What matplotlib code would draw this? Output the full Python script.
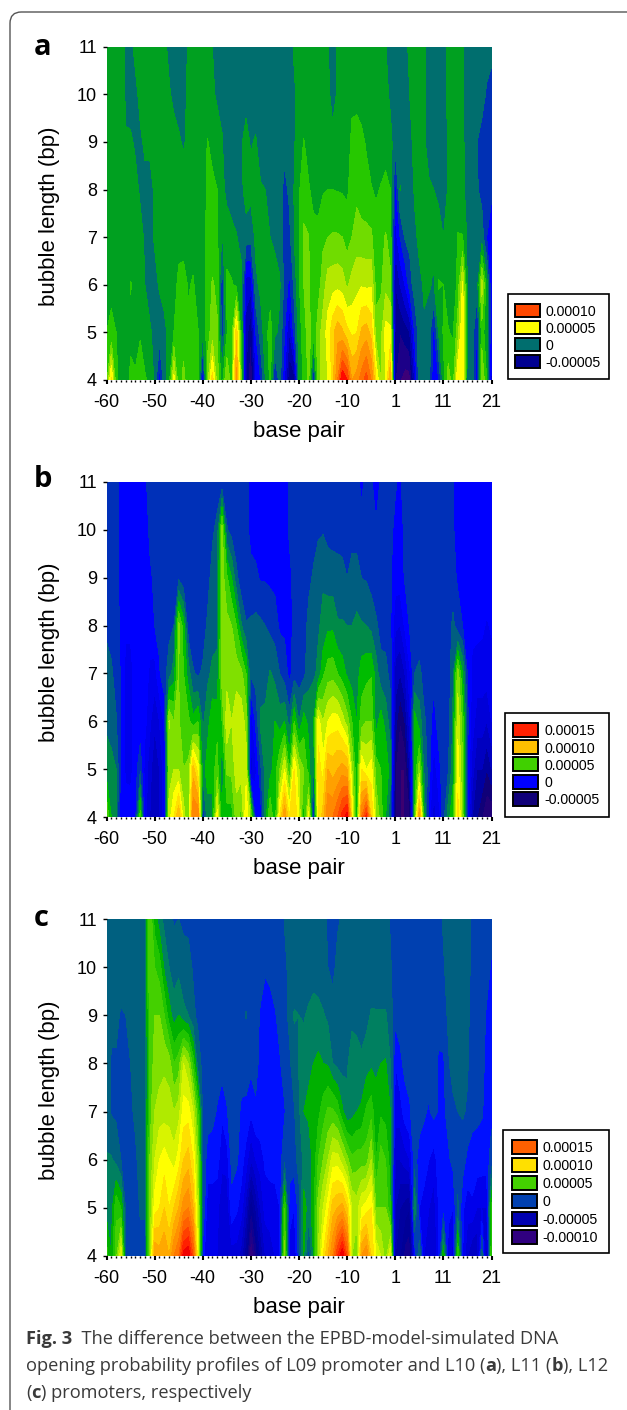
import matplotlib
matplotlib.use("Agg")
import matplotlib.pyplot as plt
import numpy as np
from matplotlib.colors import to_rgb
from matplotlib.patches import FancyBboxPatch, Rectangle

W, H = 627, 1410

plt.rcParams["font.family"] = ["Liberation Sans", "DejaVu Sans"]

base_pairs = list(range(-60, 0)) + list(range(1, 22))
bubble_lengths = [4, 5, 6, 7, 8, 9, 10, 11]
x_tick_labels = [-60, -50, -40, -30, -20, -10, 1, 11, 21]

# one line per base pair, values at bubble length 4..11, in units of 1e-5
values_a = [
    [2.5,2,1.5,1.5,1.5,1.5,1.5,1.5], [6.2,2.2,1.8,1.5,1.5,1.5,1.5,1.5], [2.3,2,1.5,1.5,1.5,1.5,1.5,1.5],
    [1.5,1.5,1.5,1.5,1.4,1.4,1.4,1.4], [1.5,1.6,1.5,1.5,1.4,1.05,.9,.9], [2.2,1.8,2.05,1.4,1.3,1.1,.7,.7],
    [2.1,1.7,1.8,1.3,1.2,.9,.7,1.3], [2.5,1.9,1.4,1.2,.9,.8,1.3,1.4], [2.1,1.5,1,.9,.7,1.2,1.4,1.4],
    [1.8,1.1,.7,.7,.5,1.3,1.4,1.5], [.8,.8,.7,1.1,1.2,1.4,1.5,1.5], [-1.5,.5,1.1,1.4,1.4,1.4,1.5,1.5],
    [.5,.7,1.4,1.5,1.5,1.5,1.4,1.2], [1.5,1.3,1.5,1.5,1.5,1.4,1.1,.8], [5.4,2,1.5,1.5,1.5,1.3,.8,.7],
    [2.1,2.1,2.3,1.6,1.5,1.1,.7,.6], [3.4,2.4,2.4,1.6,1.4,.9,.7,.6], [2.2,2.2,1.9,1.5,1.4,1.2,1.2,1.1],
    [2.3,2.3,2.1,1.6,1.5,1.4,1.4,1.4], [2.2,2.05,1.6,1.5,1.5,1.5,1.5,1.5], [-2,1,1.5,1.5,1.5,1.5,1.5,1.5],
    [3.6,2.5,2.4,2.3,2.2,2.05,1.3,1.1], [6.5,3.5,3.1,2.5,2.3,1.6,1.1,1], [3.5,3.1,2.8,2.2,2,1.3,.9,.8],
    [1.5,-.7,-.8,.9,1.3,1.05,.8,.6], [4,1.9,2.2,1.6,.7,.6,.6,.6], [2.5,2.5,2.1,1.3,.5,.5,.5,.5],
    [8.5,6.7,1.8,1.05,.5,.5,.5,.5], [3,2,1.3,.7,.7,.9,.5,.5], [-4,-3.5,-2.5,.5,1.5,1.3,.7,.5],
    [-6.5,-5,-2.5,.4,1.3,.9,.5,.5], [-2,-1,.8,1.2,1.3,1.1,.5,.5], [-1,.5,1.2,1.3,1.1,.5,.4,.4],
    [1,1.5,1.3,1.1,1,.5,.4,.4], [2.2,2.5,1.4,1,.7,.5,.4,.4], [-1.2,1.2,1.2,.9,.6,.4,.4,.4],
    [.5,.8,1.1,.6,.4,.4,.4,.4], [-2,-1,-.3,-.5,-.3,.3,.4,.4], [-5,-3,-1.3,-.3,.2,.5,.5,.6],
    [-4.5,-.5,.3,1,1.05,.9,.9,1.1], [1.3,1.5,1.9,1.9,1.9,1.5,1.2,1.3], [2.2,2.5,3,3.2,2.5,2.05,1.3,1.3],
    [3.2,3.5,3.1,3.05,2.1,1.6,1.2,1.3], [-1,2.3,2.2,2.3,1.7,1.4,1.2,1.3], [3.5,3.5,2.6,2.3,1.6,1.3,1.3,1.3],
    [4.5,4.5,3.5,2.8,1.9,1.3,1.3,1.3], [5,5.4,4.5,3,2,1.3,1.2,1.05], [6.3,6.7,4.6,3.1,2,1.2,.7,.5],
    [9,7.7,4.7,3.1,1.95,1.1,1.1,1.2], [12,7.2,4.5,3,1.9,1.05,1.1,1.3], [11,6.3,3.8,2.6,1.8,1.3,1.3,1.4],
    [8,5.8,4.4,3,2.5,2.3,1.7,1.4], [8.5,6,4.7,3.5,2.7,2.4,1.7,1.4], [9.5,7.2,4.9,3.3,2.5,2.2,1.6,1.4],
    [10.5,7.5,4.8,3.3,2.3,1.9,1.5,1.4], [9,6.7,4.9,3.2,2.05,1.6,1.4,1.4], [6,3.5,2.6,2.3,1.9,1.5,1.4,1.4],
    [4,3.6,2.8,2.6,2.05,1.6,1.4,1.3], [5,5.4,3.7,3.1,2.2,1.7,1.3,1.05], [8,5.3,3.2,2.6,2,1.3,.8,.5],
    [-5,-4.5,-4,-2.5,-1.5,.4,.5,.5], [-6,-5,-3,-1,1.05,.5,.5,.5], [-6.5,-4.5,-2,.1,.4,.5,.5,.7],
    [-6.5,-4,-.5,.3,.4,.8,1,1.2], [-3,-1,.5,.8,1.1,1.2,1.2,1.3], [1,.5,.8,1.2,1.3,1.4,1.4,1.4],
    [.5,.9,1.1,1.2,1.2,1.1,1.1,1.1], [.5,.5,1.1,1.2,1.1,.7,.6,.6], [-2,-1.3,.9,1.1,1,.6,.5,.5],
    [-1,1,2.1,1.2,.9,.6,.6,.6], [1.5,2.1,2,1,.5,.5,.6,.6], [3.5,2.05,1.6,1.2,1.1,1.1,1.2,1.3],
    [2.5,1.9,1.3,1.3,1.3,1.3,1.3,1.4], [6,3.5,2.3,2.05,1.5,1.4,1.3,1.3], [5.5,6,5.2,2.05,1.2,1.2,1.1,1.05],
    [.5,.7,.8,.8,.7,.5,.5,.5], [.5,.5,.4,.4,.4,.4,.4,.4], [-2,-1.2,.4,.5,.1,0,.4,.4],
    [4,2.5,4.5,.5,-.3,-.3,.3,.3], [2,1.3,1.5,-1,-.7,-.6,-.1,.3], [-2.5,-2,-2,-1.3,-.9,-.8,-.4,.3],
]

values_b = [
    [6,3.5,2.8,2.4,1.8,1.5,1.5,1.5], [4,3.3,2.6,2.2,1.5,1.5,1.5,1.5], [3,3,2.1,1.5,1.2,1.3,1.2,1.2],
    [.3,.7,.8,.9,.9,.7,.8,.8], [.5,-.2,-.3,-.5,.3,.5,.5,.5], [.5,-.3,-.3,-.5,.3,.5,.5,.5],
    [.5,.5,.5,.5,.5,.5,.5,.5], [5.5,1.8,.3,.5,.5,.5,.5,.5], [-.5,-.5,.3,.5,.5,.5,.7,.9],
    [-2,-1.5,-.8,-.2,.5,.9,1.1,1.2], [-3,-3,-1.8,-.5,1,1.1,1.2,1.2], [-2,-2,-1,.9,1.2,1.3,1.3,1.3],
    [-.5,-.5,.2,1.6,1.5,1.4,1.3,1.3], [7.5,6.5,7.1,2.5,1.7,1.3,1.2,1.2], [9,7,6,3.5,2,1.3,1.2,1.2],
    [11,7,6.1,6,6.3,1.8,1.2,1.2], [7.5,6,5.5,5,4.5,1.3,1.2,1.2], [6,6.2,5.3,3.5,1.4,1.2,1.2,1.1],
    [13,10.5,4.3,2.1,1.3,1.2,1.1,1.1], [13,8.5,5,1.8,1.3,1.1,1.1,1.1], [1,3.5,2.8,2.2,1.4,1.2,1.1,1.1],
    [3.5,4.5,3.6,2.8,2.2,1.6,1.2,1.1], [3.5,4.5,4.7,3.2,2.6,2.4,1.8,1.3], [8.5,5.5,4.6,3.3,2.7,2.6,2.3,1.5],
    [4,3,5,6.5,6.5,6.5,6.5,1.2], [4.5,6.2,7.7,6.6,6.3,5.2,2.1,1.3], [4.5,6.3,7,6.3,6,4,1.6,1.2],
    [6.5,7.5,7.8,6.5,5,2.3,1.2,1.2], [5.5,7.5,7.6,6.3,3.1,1.3,1.1,1.1], [9,7.5,6.6,5,2.1,1.1,1.1,1.1],
    [6.5,-1.5,-.7,2.2,2.2,1.1,.9,.9], [.5,-.2,1.2,2.4,2.3,1.2,.6,.5], [.3,1.8,3.2,2.5,2.2,.9,.6,.5],
    [3.5,3.3,3.3,2.5,2,.9,.5,.5], [6,3.6,4,3.1,1.7,.8,.5,.5], [4,4.5,4,2.7,1.5,.7,.5,.5],
    [9,6,3.5,2,.8,.6,.5,.5], [12,8,4,1.5,.8,.6,.6,.5], [9,5,2.5,.7,.7,.8,1.1,1.2],
    [10,9,5,1.5,1.2,1.2,1.2,1.2], [8,7,3,1.5,1.2,1.2,1.2,1.2], [4,6,4.5,1.7,1.2,1.2,1.2,1.2],
    [8.5,4.5,3.7,2.6,2.5,1.6,1.2,1.2], [.3,2.5,4,2.8,2.6,2.2,1.4,1.2], [9,9.5,8.5,3.2,2.9,2.7,1.8,1.2],
    [10.5,8.5,7,4.8,3.2,2.9,1.9,1.2], [13,11,8,5.5,3.8,2.5,1.7,1.2], [13,10.5,8.5,5.6,3.8,2.5,1.6,1.2],
    [14,11,8.5,5,3.1,2.4,1.6,1.2], [15.5,11.5,7.5,4.5,3.1,2.3,1.6,1.2], [16.5,11,6.5,3.8,3,2,1.5,1.2],
    [9,7,5,3.5,3,2.5,1.5,1.2], [4,4,4,3.5,3.2,2.5,1.5,1.2], [13,9,5.5,4.5,3.1,2,1.3,.8],
    [15.5,8,6,4.7,3,1.9,1.2,1.2], [10,8.5,6,4.9,2.7,1.6,1.1,1.1], [7,5.5,3.5,3.5,2.2,1.3,1.1,.6],
    [5.5,5,4.5,2.4,1.6,1.2,1.1,1.1], [4,4.8,3.6,2.3,1.6,1.1,1.1,1.1], [2,3.5,2.5,1.7,1.2,1.1,1.1,1.1],
    [-5,-5,-3.5,-2.5,-.8,.5,.9,1.05], [-6,-6,-5,-3,-1,.5,.6,.9], [-6,-6,-4,-2,.2,1.1,1.2,1.3],
    [-5.5,-3,-1.5,-.2,1.1,1.2,1.2,1.2], [5,4,4.5,2,1.2,1.2,1.2,1.2], [12,6.5,3.5,2.3,1.2,1.2,1.2,1.2],
    [4,2.8,2.2,1.5,1.2,1.2,1.2,1.2], [.5,1.5,1.5,1.3,1.2,1.2,1.2,1.2], [-1.5,-.5,.5,1.3,1.2,1.2,1.2,1.2],
    [-.5,.5,1.5,1.3,1.2,1.2,1.2,1.2], [1.6,1.7,1.6,1.3,1.2,1.2,1.2,1.2], [3.5,1.9,1.5,1.3,1.3,1.2,1.2,1.2],
    [5,3.5,3.2,2.8,2.3,1.2,1.1,1.05], [9.5,8.5,7.7,6.5,1.3,.9,.6,.5], [6.5,6,5.5,4,1,.6,.5,.5],
    [.5,1,1.3,1,.5,.5,.5,.5], [-3,-1.5,-.5,-.3,.3,.5,.5,.5], [-4,-3,-1.5,-.5,.3,.5,.5,.5],
    [-5,-3,-1.5,-.5,.2,.5,.5,.5], [-6,-4,-2,-.5,-.1,.5,.5,.5], [-6,-3,-1,-.3,.1,.3,.5,.5],
]

values_c = [
    [4.5,2.6,2.1,1.5,1.6,1.6,1.6,1.6], [3,2.5,2.1,.9,.9,1.2,1.6,1.6], [5.5,4.8,1.7,.8,.9,1.2,1.5,1.5],
    [9,4,1,.8,.7,.9,1.5,1.5], [.5,.9,.9,.8,.8,1,1.5,1.5], [.5,.7,.9,.9,1,1.2,1.5,1.5],
    [.5,.5,.9,1.1,1.1,1.4,1.5,1.5], [.7,1.1,1.2,1.2,1.3,1.4,1.5,1.5], [.7,1.1,1.3,1.3,1.4,1.4,1.5,1.5],
    [6.5,6,6,5.5,5,5.5,6,6], [13,9.5,8,7,6.5,6,5,3.5], [12.5,10,9,7.5,6.5,6,4.5,2.5],
    [13,11,9.5,7.5,6.8,5,2.8,1.7], [12,10,9,7.5,6.5,3.5,2,1.3], [14,11,8.5,7,5,2.5,1.5,.9],
    [15,12,9.5,7.5,5.5,3,1.7,1], [18.5,13.5,11,9.5,8,2.3,1.2,.9], [19,14,11.5,9.5,7,2,1.3,.8],
    [16,12,10,8,4.5,1.2,.9,.8], [9,7.5,6.5,5,1.5,.8,.7,.7], [-.5,1,1,.9,.7,.7,.7,.7],
    [-2,-1.5,-.5,.5,.7,.7,.7,.7], [-2,-1.5,-.5,.3,.7,.7,.7,.7], [-2,-1.8,-.5,-.1,.5,.7,.7,.7],
    [-2.5,-2.5,-1.8,-.8,.5,.6,.6,.6], [-3,-3,-1.5,-.1,.5,.6,.6,.6], [-2.5,-.3,.3,.5,.5,.5,.5,.5],
    [-2.5,-.8,.2,.5,.5,.6,.5,.5], [-3.5,-1.5,-.5,-.2,.5,.7,.5,.5], [-6,-3.5,-1.5,-.2,.4,1.05,.5,.5],
    [-10.5,-7,-3,-.8,.3,.5,.5,.5], [-8,-5,-2,-.1,.2,.3,.5,.5], [-5,-3,-1.5,-.2,-.2,-.1,.3,.5],
    [-3,-1.5,-.8,-.5,-.4,-.4,.1,.5], [-2.5,-1.5,-.6,-.5,-.4,-.3,.2,.5], [-2,-1.5,-.5,-.4,-.3,-.1,.5,.5],
    [-1,-1,-.5,-.3,-.1,.3,.5,.6], [6.5,5,.8,-.1,.4,.7,.8,1.05], [-1.5,-.5,.5,.7,.8,1.2,1.2,1.2],
    [-2,-1,.5,.9,1.5,2.1,1.3,1.2], [.5,.5,1.5,1.8,2.1,2,1.3,1.2], [3,3.5,2.2,3,2.5,1.9,1.3,1.2],
    [.5,2.5,2.3,3.2,2.8,2.2,1.3,1.2], [3,3.5,3.3,3.5,3,2.5,1.4,1.2], [7,6.5,5,3.7,3.2,2.4,1.3,1.2],
    [10,8,6,4.5,3,2.1,1.2,1.2], [12,9.5,7,5.2,2.9,1.8,1,.9], [14,11.5,8.5,5.2,2,1.3,.8,.5],
    [17,12,8.5,4.6,1.7,1.3,1.2,.9], [19,12.5,7.5,3.2,1.6,1.5,1.2,1.1], [16,11,6.3,2.2,1.9,1.5,1.3,1.2],
    [7,8,5.2,2.6,2.4,1.8,1.4,1.3], [6,7.5,5.5,3,2.5,1.6,1.3,1.3], [13,9,5.5,3.2,2.2,1.5,1.3,1.3],
    [14,9.5,5.5,4.2,2.5,1.7,1.4,1.3], [11,10,7,4.6,2.8,2.1,1.4,1.3], [9,6,4,3.2,2.9,2.1,1.3,1.3],
    [8,6,5.5,3.8,3,2.1,1.3,1.3], [6.5,6,5,3.6,3.1,2.1,1.3,1.3], [9,4,3.5,3,2,1.5,1.1,.9],
    [-5,-4,-3,-1.5,-1,.3,.5,.5], [-6,-5,-3,-1.5,-.3,.5,.6,.6], [-7.5,-5.5,-2.5,-.5,.3,.5,.5,.5],
    [-8,-6,-2,-.1,.3,.4,.5,.5], [-1,3,.5,.5,.6,.6,.6,.8], [2,-1,-.5,.5,.7,.7,.7,.8],
    [-2,-1.5,-.4,.1,.6,.6,.6,.7], [-2.5,-2,-1,-.1,.3,.5,.5,.6], [-3,-2.5,-1.5,.3,.5,.5,.5,.6],
    [-1.5,-1,-.5,-.1,-.2,.5,.5,.7], [4,-.5,-.4,-.2,-.2,.7,.9,1.1], [-1.5,-.7,-.2,.3,.9,1.1,1.3,1.5],
    [-2.5,-1,.3,.8,1.3,1.5,1.5,1.5], [5,1.2,.5,1,1.4,1.5,1.5,1.5], [-1,-.8,.5,1.1,1.4,1.5,1.5,1.5],
    [-3,-1.5,-.3,.9,1.1,1.3,1.4,1.4], [-4,-1.2,-.4,.3,.5,.5,.7,.7], [-4,-2,-.4,.2,.3,.5,.5,.5],
    [1.5,-2,-.5,.1,.2,.3,.3,.3], [-4,-2,-.5,-.4,-.2,-.1,.3,.4], [5,4.5,.5,-.3,-.5,-.4,-.1,.3],
]

levels_a = list(range(-7, 13))
colors_a = ["#3c0078", "#1c0088", "#000090", "#0000b0", "#0000d8", "#0000ff", "#0030b4", "#006e6e", "#00a020", "#26c800",
            "#70dc00", "#b4e800", "#ffff00", "#ffd800", "#ffb000", "#ff9000", "#ff7000", "#ff4800", "#ff0800"]
levels_b = list(range(-7, 18))
colors_b = ["#3c0070", "#200078", "#100078", "#0000a0", "#0000c0", "#0000d8", "#0000ec", "#0000ff", "#0030b8", "#005e80",
            "#008a48", "#00bc00", "#40d000", "#80e000", "#c4f000", "#ffff00", "#ffe000", "#ffc000", "#ffa000", "#ff8800",
            "#ff6800", "#ff4800", "#ff2000", "#f00000"]
levels_c = list(range(-11, 20))
colors_c = ["#380078", "#300080", "#200088", "#100090", "#000098", "#0000a0", "#0000b0", "#0000c4", "#0000d8", "#0000ec",
            "#0010ff", "#0040b0", "#006080", "#008060", "#00b000", "#20c400", "#44d000", "#80e000", "#b0ea00", "#d8f400",
            "#ffff00", "#ffe000", "#ffc400", "#ffa800", "#ff9000", "#ff7800", "#ff6000", "#ff4000", "#ff2000", "#f00000"]

legend_a = [10, 5, 0, -5]
legend_b = [15, 10, 5, 0, -5]
legend_c = [15, 10, 5, 0, -5, -10]


def px_axes(fig, x0, y0, x1, y1):
    return fig.add_axes([x0 / W, 1 - y1 / H, (x1 - x0) / W, (y1 - y0) / H])


def legend_text(v):
    return "0" if v == 0 else f"{v * 1e-5:.5f}"


def draw_panel(fig, letter, letter_y, top, bottom, values, levels, colors):
    ax = px_axes(fig, 106.5, top, 491.5, bottom)
    x = np.arange(len(base_pairs))
    z = np.array(values, dtype=float).T
    ax.contourf(x, bubble_lengths, z, levels=levels, colors=colors, extend="both")
    ax.set_xlim(0, 80)
    ax.set_ylim(4, 11)
    ax.spines[["top", "left", "right", "bottom"]].set_visible(False)
    ax.set_xticks([base_pairs.index(t) for t in x_tick_labels])
    ax.set_xticklabels(x_tick_labels, fontsize=13)
    ax.set_xticks(x, minor=True)
    ax.set_yticks(bubble_lengths)
    ax.tick_params(axis="x", which="major", length=3, width=1.5, pad=7)
    ax.tick_params(axis="x", which="minor", length=1.5, width=1)
    ax.tick_params(axis="y", length=3, width=1, pad=4, labelsize=13)
    fig.text(298.5 / W, 1 - (bottom + 52) / H, "base pair", fontsize=16, ha="center", va="center")
    fig.text(50 / W, 1 - (top + bottom + 6) / 2 / H, "bubble length (bp)", fontsize=16, rotation=90,
             ha="center", va="center")
    fig.text(34 / W, 1 - letter_y / H, letter, fontsize=21, fontweight="bold", family="Open Sans",
             ha="left", va="baseline")
    return ax


def draw_legend(fig, x0, y0, x1, y1, sw_x0, sw_x1, first_y, sw_h, step, text_x, vals, levels, colors):
    fig.add_artist(Rectangle((x0 / W, 1 - y1 / H), (x1 - x0) / W, (y1 - y0) / H, transform=fig.transFigure,
                             facecolor="white", edgecolor="black", linewidth=1.2))
    for i, v in enumerate(vals):
        yy = first_y + i * step
        fig.add_artist(Rectangle((sw_x0 / W, 1 - (yy + sw_h) / H), (sw_x1 - sw_x0) / W, sw_h / H,
                                 transform=fig.transFigure, facecolor=to_rgb(colors[levels.index(v)]),
                                 edgecolor="black", linewidth=1.4))
        fig.text(text_x / W, 1 - (yy + sw_h / 2) / H, legend_text(v), fontsize=10.2, ha="left", va="center_baseline")


def draw_runs(fig, x, y, runs):
    renderer = fig.canvas.get_renderer()
    for s, weight in runs:
        t = fig.text(x / W, 1 - y / H, s, fontsize=13.15, family="Open Sans", fontweight=weight,
                     color="#3a3a3a", ha="left", va="baseline")
        x += t.get_window_extent(renderer).width + (3.8 if s.endswith(" ") else 0)


fig = plt.figure(figsize=(W / 100, H / 100), dpi=100)

fig.add_artist(FancyBboxPatch((10 / W, 1 - 1425 / H), 700 / W, 1413 / H, transform=fig.transFigure,
                              boxstyle="round,pad=0,rounding_size=0.018", mutation_aspect=W / H,
                              facecolor="none", edgecolor="#555555", linewidth=1))

draw_panel(fig, "a", 55, 46.7, 380, values_a, levels_a, colors_a)
draw_panel(fig, "b", 487, 482, 817, values_b, levels_b, colors_b)
draw_panel(fig, "c", 926, 919, 1256, values_c, levels_c, colors_c)

draw_legend(fig, 507.5, 294, 608.7, 378.5, 515, 540, 304, 13.3, 17, 545.7, legend_a, levels_a, colors_a)
draw_legend(fig, 505, 713, 608.7, 816.7, 513, 538, 722.7, 14, 17.3, 544.3, legend_b, levels_b, colors_b)
draw_legend(fig, 503.5, 1130, 608.7, 1253.3, 511.5, 537, 1139.5, 14.5, 18, 542.4, legend_c, levels_c, colors_c)

draw_runs(fig, 26, 1344, [("Fig. 3", "bold"), ("  The difference between the EPBD-model-simulated DNA", "normal")])
draw_runs(fig, 26, 1371, [("opening probability profiles of L09 promoter and L10 (", "normal"), ("a", "bold"),
                          ("), L11 (", "normal"), ("b", "bold"), ("), L12", "normal")])
draw_runs(fig, 26, 1398, [("(", "normal"), ("c", "bold"), (") promoters, respectively", "normal")])

fig.savefig("out.png", dpi=100)
